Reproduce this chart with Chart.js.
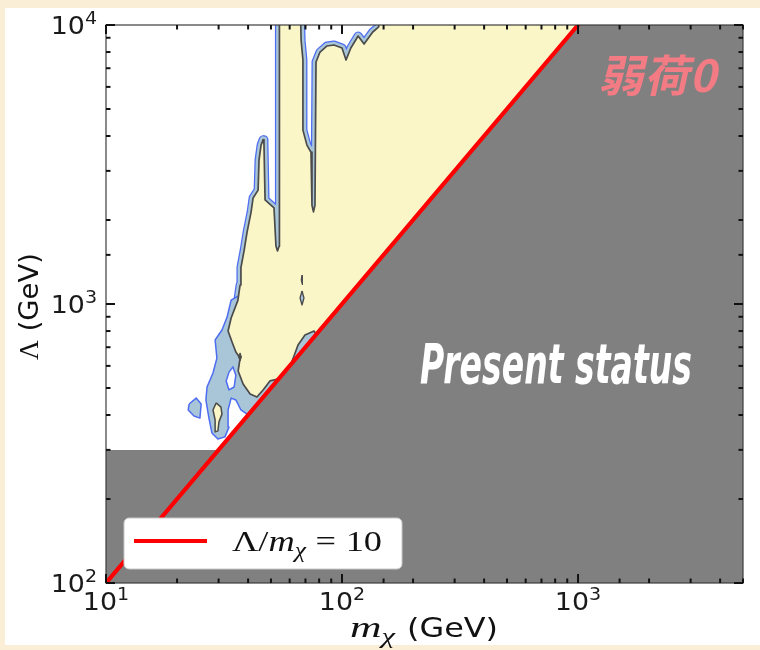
<!DOCTYPE html>
<html>
<head>
<meta charset="utf-8">
<script src="https://cdn.jsdelivr.net/npm/chart.js@4/dist/chart.umd.min.js"></script>
<style>
  html, body { margin: 0; padding: 0; background: #fbeed6; }
  #wrap { position: relative; width: 760px; height: 650px; }
  canvas { display: block; }
</style>
</head>
<body>
<div id="wrap"><canvas id="c" width="760" height="650"></canvas></div>
<script>
// Axis ranges (GeV)
const massRange = [10, 5000];
const lambdaRange = [100, 10000];

// Labelled decades: mantissa 10 with an exponent
const xMajorTicks = [10, 100, 1000];
const xTickExponents = ['1', '2', '3'];
const yMajorTicks = [100, 1000, 10000];
const yTickExponents = ['2', '3', '4'];

// Allowed region, inner contour [mχ, Λ] in GeV (closes under the excluded band)
const allowedInner = [
  [54.3, 13000], [66.4, 13000], [67.1, 8800], [68.3, 7500], [68.3, 4200],
  [71.0, 3710], [73.9, 3500], [74.6, 2260], [75.7, 2140], [76.8, 2260],
  [77.6, 7370], [80.7, 8000], [86.4, 8410], [92.5, 8480], [100, 8270],
  [104, 7490], [109, 8270], [117, 9130], [124, 8550], [135, 9440],
  [143, 9840], [149, 13000], [2000, 13000], [2000, 80], [89, 450],
  [80.7, 740], [76.1, 800], [69.7, 774], [65.1, 713], [62.6, 651],
  [59.0, 570], [54.6, 540], [49.5, 530], [46.3, 492], [43.6, 464],
  [40.8, 476], [38.1, 517], [36.3, 575], [37.0, 640], [35.5, 673],
  [34.2, 731], [32.9, 800], [33.9, 891], [36.2, 1030], [37.0, 1170],
  [37.3, 1350], [38.5, 1560], [39.6, 1810], [41.2, 2140], [42.0, 2400],
  [44.1, 2560], [44.5, 3280], [45.4, 3710], [46.3, 3880], [46.7, 3750],
  [47.2, 2360], [51.5, 2210], [52.5, 1610], [53.3, 1550], [54.1, 1610],
  [54.3, 13000]
];

// Wider outer contour at low mass
const outerLowMass = [
  [37.0, 1077], [33.9, 1033], [32.6, 898], [31.0, 807], [29.0, 743],
  [29.5, 640], [28.4, 566], [26.8, 504], [26.5, 453], [27.3, 390],
  [28.1, 345], [29.8, 328], [31.9, 334], [33.2, 362], [32.9, 417],
  [33.9, 460], [35.5, 453], [37.3, 417], [39.6, 403], [49.5, 368],
  [98, 630], [80.7, 913], [37.0, 1077]
];

// Small islands of the contours
const outerHole = [[33.2, 570], [34.5, 595], [35.5, 556], [34.9, 504], [33.2, 492], [32.3, 530], [33.2, 570]];
const outerIsland = [[22.5, 438], [24.1, 460], [25.3, 438], [25.0, 390], [23.6, 397], [22.3, 417], [22.5, 438]];
const innerIsland = [[29.3, 442], [30.7, 427], [31.0, 403], [30.1, 378], [29.8, 351], [29.0, 348], [29.0, 384], [28.4, 417], [29.3, 442]];
const speckA = [[37.0, 668], [37.5, 646], [37.0, 625], [36.4, 646], [37.0, 668]];
const speckB = [[67.7, 1270], [68.3, 1219], [67.7, 1170], [67.1, 1219], [67.7, 1270]];
const speckC = [[67.7, 1113], [69.0, 1051], [67.7, 992], [66.4, 1051], [67.7, 1113]];

// Present exclusion: Λ < 10 mχ, and Λ < 300 GeV
const excluded = [[8, 300], [30, 300], [1300, 13000], [8000, 13000], [8000, 80], [8, 80], [8, 300]];
// Λ / mχ = 10
const ratioLine = [[10, 100], [1000, 10000], [1300, 13000]];

const YELLOW = '#faf6c8';
const LIGHTBLUE = '#a9c6d8';
const BLUE = '#4d6cf2';
const CONTOUR = '#4b4b4b';
const GRAY = '#808080';
const STRETCH = 1.12;   // horizontal widening of the lettering

const pts = a => a.map(([x, y]) => ({ x, y }));
function shape(data, opts) {
  return Object.assign({
    data: pts(data), showLine: true, fill: false, backgroundColor: 'transparent',
    borderColor: 'transparent', borderWidth: 0, pointRadius: 0, pointHoverRadius: 0,
    tension: 0, clip: 0, borderJoinStyle: 'round'
  }, opts);
}

const datasets = [
  shape(ratioLine, { label: 'Λ/mχ = 10', borderColor: '#ff0000', borderWidth: 4.2, order: 1 }),
  shape(excluded, { label: 'excluded', fill: 'shape', backgroundColor: GRAY, order: 2 }),
  shape(speckA, { label: 'speckA', fill: 'shape', backgroundColor: CONTOUR, borderColor: CONTOUR, borderWidth: 1, order: 5 }),
  shape(speckB, { label: 'speckB', fill: 'shape', backgroundColor: CONTOUR, borderColor: CONTOUR, borderWidth: 1, order: 5 }),
  shape(speckC, { label: 'speckC', fill: 'shape', backgroundColor: LIGHTBLUE, borderColor: CONTOUR, borderWidth: 1.3, order: 5 }),
  shape(innerIsland, { label: 'innerIsland', fill: 'shape', backgroundColor: YELLOW, borderColor: CONTOUR, borderWidth: 1.5, order: 5 }),
  shape(outerIsland, { label: 'outerIsland', fill: 'shape', backgroundColor: LIGHTBLUE, borderColor: BLUE, borderWidth: 1.5, order: 5 }),
  shape(outerHole, { label: 'outerHole', fill: 'shape', backgroundColor: '#ffffff', borderColor: BLUE, borderWidth: 1.5, order: 5 }),
  shape(allowedInner, { label: 'allowed', fill: 'shape', backgroundColor: YELLOW, borderColor: CONTOUR, borderWidth: 1.7, order: 7 }),
  shape(outerLowMass, { label: 'outerLow', fill: 'shape', backgroundColor: LIGHTBLUE, borderColor: BLUE, borderWidth: 1.5, order: 8 }),
  shape(allowedInner, { label: 'bandInner', borderColor: LIGHTBLUE, borderWidth: 6.5, order: 9 }),
  shape(allowedInner, { label: 'bandOuter', borderColor: BLUE, borderWidth: 9, order: 10 })
];

const near = (v, list) => list.findIndex(t => Math.abs(v - t) / t < 1e-6);
const isDecade = v => Math.abs(Math.log10(v) - Math.round(Math.log10(v))) < 1e-6;

function runsWidth(ctx, runs) {
  let w = 0;
  for (const r of runs) { ctx.font = r.font; w += ctx.measureText(r.text).width + (r.gap || 0); }
  return w;
}
// Draws mixed-font text runs from (x, y) on the baseline, widened by sx
function drawRuns(ctx, runs, x, y, sx) {
  ctx.save();
  ctx.translate(x, y);
  ctx.scale(sx, 1);
  let cx = 0;
  for (const r of runs) {
    ctx.font = r.font;
    ctx.fillText(r.text, cx, r.dy || 0);
    cx += ctx.measureText(r.text).width + (r.gap || 0);
  }
  ctx.restore();
  return cx * sx;
}
const powerRuns = e => [
  { text: '10', font: '24px "DejaVu Sans"' },
  { text: e, font: '17px "DejaVu Sans"', dy: -10 }
];

const decor = {
  id: 'decor',
  beforeDraw(chart) {
    const ctx = chart.ctx;
    ctx.save();
    ctx.fillStyle = '#fbeed6';
    ctx.fillRect(0, 0, chart.width, chart.height);
    ctx.fillStyle = '#ffffff';
    ctx.fillRect(5, 8, chart.width - 5, 637);
    ctx.restore();
  },
  afterDraw(chart) {
    const { ctx, chartArea: a, scales: { x, y } } = chart;
    ctx.save();

    // frame
    ctx.strokeStyle = '#3c3c3c';
    ctx.lineWidth = 1.2;
    ctx.strokeRect(a.left, a.top, a.right - a.left, a.bottom - a.top);

    // inward ticks on all four sides
    ctx.strokeStyle = '#111';
    ctx.lineWidth = 2;
    const seg = (x1, y1, x2, y2) => { ctx.beginPath(); ctx.moveTo(x1, y1); ctx.lineTo(x2, y2); ctx.stroke(); };
    x.ticks.forEach(t => {
      const px = x.getPixelForValue(t.value);
      const len = isDecade(t.value) ? 9 : 4.5;
      seg(px, a.bottom, px, a.bottom - len);
      seg(px, a.top, px, a.top + len);
    });
    y.ticks.forEach(t => {
      const py = y.getPixelForValue(t.value);
      const len = isDecade(t.value) ? 9 : 4.5;
      seg(a.left, py, a.left + len, py);
      seg(a.right, py, a.right - len, py);
    });

    // decade tick labels
    ctx.fillStyle = '#1a1a1a';
    ctx.textBaseline = 'alphabetic';
    xMajorTicks.forEach((v, i) => {
      const runs = powerRuns(xTickExponents[i]);
      const w = runsWidth(ctx, runs) * STRETCH;
      drawRuns(ctx, runs, x.getPixelForValue(v) - w / 2, a.bottom + 27, STRETCH);
    });
    yMajorTicks.forEach((v, i) => {
      const runs = powerRuns(yTickExponents[i]);
      const w = runsWidth(ctx, runs) * STRETCH;
      drawRuns(ctx, runs, a.left - 9 - w, y.getPixelForValue(v) + 9, STRETCH);
    });

    // legend box
    const ratio = chart.data.datasets[0];
    const lx = a.left + 18, ly = a.top + 493, lw = 278, lh = 51;
    ctx.beginPath();
    ctx.roundRect(lx, ly, lw, lh, 5);
    ctx.fillStyle = '#ffffff';
    ctx.fill();
    ctx.strokeStyle = '#c8c8c8';
    ctx.lineWidth = 1;
    ctx.stroke();
    ctx.strokeStyle = ratio.borderColor;
    ctx.lineWidth = ratio.borderWidth;
    seg(lx + 10, ly + 23, lx + 83, ly + 23);
    ctx.fillStyle = '#111';
    const leg = [
      { text: 'Λ/', font: '30px "Liberation Serif"' },
      { text: 'm', font: 'italic 30px "Liberation Serif"' },
      { text: 'χ', font: 'italic 21px "Liberation Serif"', dy: 6, gap: 8 },
      { text: '=', font: '30px "Liberation Serif"', gap: 8 },
      { text: '10', font: '30px "Liberation Serif"' }
    ];
    drawRuns(ctx, leg, lx + 108, ly + 33, 150 / runsWidth(ctx, leg));

    // axis titles
    const xm = [
      { text: 'm', font: 'italic 30px "Liberation Serif"' },
      { text: 'χ', font: 'italic 21px "Liberation Serif"', dy: 6 }
    ];
    drawRuns(ctx, xm, 350, 637, 45 / runsWidth(ctx, xm));
    const gev = [{ text: '(GeV)', font: '27px "DejaVu Sans"' }];
    drawRuns(ctx, gev, 407, 637, 91 / runsWidth(ctx, gev));

    const yt = [
      { text: 'Λ', font: '27px "Liberation Serif"' },
      { text: ' (GeV)', font: '27px "DejaVu Sans"' }
    ];
    const yw = runsWidth(ctx, yt);
    ctx.save();
    ctx.translate(38, 360);
    ctx.rotate(-Math.PI / 2);
    drawRuns(ctx, yt, 0, 0, 107 / yw);
    ctx.restore();

    // region annotations
    ctx.fillStyle = '#ffffff';
    ctx.font = 'italic bold 56px "DejaVu Sans"';
    const s = 'Present status';
    const sw = ctx.measureText(s).width;
    ctx.save();
    ctx.translate(a.left + 450, a.top + 358);
    ctx.scale(272 / sw, 1);
    ctx.textAlign = 'center';
    ctx.fillText(s, 0, 0);
    ctx.restore();

    ctx.fillStyle = '#f27b84';
    ctx.font = 'bold 44px "Noto Sans CJK SC"';
    const c = '弱荷0';
    const cw = ctx.measureText(c).width;
    ctx.save();
    ctx.translate(a.left + 555, a.top + 50);
    ctx.transform(1, 0, -0.22, 1, 0, 0);
    ctx.scale(118 / cw, 1);
    ctx.textAlign = 'center';
    ctx.textBaseline = 'middle';
    ctx.fillText(c, 0, 0);
    ctx.restore();

    ctx.restore();
  }
};

new Chart(document.getElementById('c'), {
  type: 'scatter',
  data: { datasets },
  options: {
    responsive: false,
    animation: false,
    events: [],
    layout: { padding: { top: 25, right: 17, left: 0, bottom: 0 } },
    plugins: { legend: { display: false }, tooltip: { enabled: false } },
    scales: {
      x: {
        type: 'logarithmic', min: massRange[0], max: massRange[1],
        grid: { display: false }, border: { display: false },
        afterFit: s => { s.height = 67; },
        ticks: { display: false, autoSkip: false }
      },
      y: {
        type: 'logarithmic', min: lambdaRange[0], max: lambdaRange[1],
        grid: { display: false }, border: { display: false },
        afterFit: s => { s.width = 106; },
        ticks: { display: false, autoSkip: false }
      }
    }
  },
  plugins: [decor]
});
</script>
</body>
</html>
